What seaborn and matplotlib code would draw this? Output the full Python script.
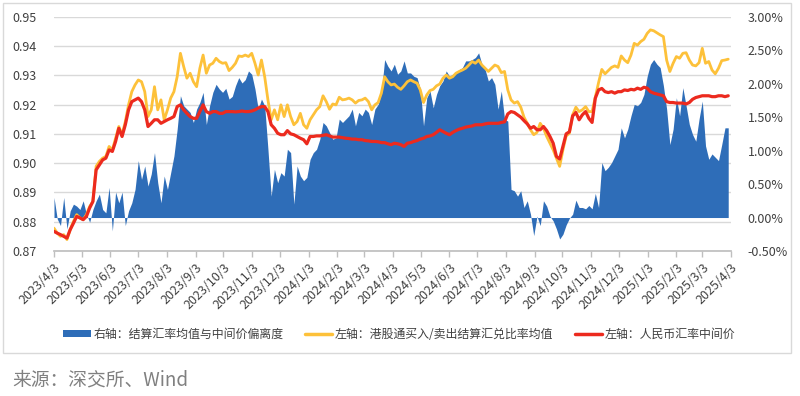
import numpy as np
import pandas as pd
import seaborn as sns
import matplotlib.pyplot as plt
import matplotlib.dates as mdates
from matplotlib.patches import Rectangle, Patch
from matplotlib.lines import Line2D
from matplotlib.ticker import FuncFormatter, MultipleLocator

# all three series read twice a week
dates = pd.date_range('2023-04-03', '2025-04-03', freq='84h')

# right axis: settlement rate average vs central parity deviation (%)
deviation = [
    0.30, -0.02, -0.12, 0.30, -0.17, 0.10, 0.20, 0.17, 0.12, 0.25,
    0.05, -0.07, 0.12, 0.25, 0.35, 0.12, 0.07, 0.45, -0.20, 0.38,
    0.22, 0.38, -0.12, 0.10, 0.22, 0.42, 0.85, 0.57, 0.77, 0.47,
    0.65, 0.97, 0.52, 0.22, 0.62, 0.42, 0.67, 0.92, 1.32, 1.82,
    1.67, 1.62, 1.57, 1.42, 1.62, 1.72, 1.87, 1.39, 1.67, 1.87,
    1.99, 1.92, 1.87,
    1.93, 1.77, 1.81, 1.97, 2.09, 2.01, 2.06, 2.19, 2.14, 1.92,
    1.62, 1.77, 1.67, 1.02, 0.32, 0.72, 0.52, 0.67, 0.62, 1.02,
    0.97, 0.20, 0.77, 0.62, 0.55, 0.60, 0.87, 0.97, 1.02, 1.17,
    1.42, 1.37, 1.27, 1.17, 1.19, 1.47, 1.42, 1.47, 1.52, 1.62,
    1.37, 1.57, 1.52, 1.62, 1.57, 1.39, 1.62, 1.69, 1.87, 2.36, 2.26, 2.19,
    2.29, 2.14, 2.19, 2.34, 2.16, 2.16, 2.11, 2.09, 1.92, 1.37,
    1.79, 1.89, 1.64, 1.84, 1.97, 2.04, 2.19, 2.11, 2.14, 2.16,
    2.21, 2.24, 2.34, 2.34, 2.36, 2.39, 2.46, 2.29, 2.21, 2.04,
    2.09, 1.99, 1.62, 1.89, 1.47, 1.44, 0.42, 0.40, 0.32, 0.40,
    0.15, 0.25, 0.05, -0.27, 0.02, -0.12, 0.25, 0.17, 0.02, -0.05, -0.17, -0.32, -0.25,
    -0.11, -0.01, 0.05, 0.26, 0.15, 0.15, 0.13, 0.18, 0.13, 0.36,
    0.15, 0.82, 0.70, 0.75, 0.82, 0.92, 1.02, 1.34, 1.19, 1.32,
    1.52, 1.69, 1.67, 1.72, 1.84, 2.11, 2.29, 2.36, 2.29, 2.24,
    1.97, 1.62, 1.09, 1.32, 1.79, 1.52, 1.94, 1.67, 1.39, 1.24,
    1.14, 1.47, 1.74, 1.07, 0.87, 0.95, 0.90, 0.85, 1.09, 1.34, 1.34,
]

# left axis: HK Connect buy/sell settlement ratio average
hk_ratio = [
    0.8778, 0.8761, 0.8750, 0.8756, 0.8739, 0.8773, 0.8801, 0.8824, 0.8813, 0.8807,
    0.8824, 0.8852, 0.8869, 0.8989, 0.9006, 0.9017, 0.9023, 0.9057, 0.9045, 0.9085,
    0.9125, 0.9097, 0.9142, 0.9199, 0.9244, 0.9267, 0.9284, 0.9278, 0.9244, 0.9159,
    0.9182, 0.9261, 0.9182, 0.9216, 0.9148, 0.9182, 0.9222, 0.9244, 0.9295, 0.9375,
    0.9330, 0.9290, 0.9307, 0.9278, 0.9261, 0.9324, 0.9369, 0.9307, 0.9335, 0.9341,
    0.9358, 0.9347, 0.9341, 0.9343, 0.9316, 0.9327, 0.9341, 0.9366, 0.9364, 0.9369,
    0.9364, 0.9375, 0.9341, 0.9301, 0.9352, 0.9295, 0.9216, 0.9148, 0.9182, 0.9148,
    0.9199, 0.9159, 0.9199, 0.9159, 0.9131, 0.9142, 0.9170, 0.9131, 0.9119, 0.9148,
    0.9165, 0.9182, 0.9193, 0.9230, 0.9210, 0.9184, 0.9202, 0.9199, 0.9225, 0.9216,
    0.9218, 0.9222, 0.9216, 0.9205, 0.9214, 0.9216, 0.9222, 0.9210, 0.9182, 0.9199,
    0.9207, 0.9239, 0.9295, 0.9278, 0.9267, 0.9270, 0.9259, 0.9252, 0.9264, 0.9278,
    0.9284, 0.9278, 0.9273, 0.9250, 0.9207, 0.9233, 0.9248, 0.9252, 0.9264, 0.9270,
    0.9290, 0.9301, 0.9290, 0.9295, 0.9307, 0.9313, 0.9318, 0.9324, 0.9335, 0.9347,
    0.9341, 0.9352, 0.9335, 0.9324, 0.9313, 0.9324, 0.9335, 0.9330, 0.9309, 0.9313,
    0.9250, 0.9216, 0.9205, 0.9210, 0.9191, 0.9157, 0.9136, 0.9114, 0.9097, 0.9105,
    0.9136, 0.9119, 0.9091, 0.9068, 0.9045, 0.9017, 0.8989, 0.9045, 0.9093, 0.9102,
    0.9165, 0.9191, 0.9176, 0.9182, 0.9193, 0.9176, 0.9176, 0.9225, 0.9275, 0.9320,
    0.9305, 0.9316, 0.9327, 0.9332, 0.9327, 0.9366, 0.9352, 0.9343, 0.9369, 0.9409,
    0.9403, 0.9415, 0.9423, 0.9443, 0.9455, 0.9452, 0.9445, 0.9438, 0.9432, 0.9352,
    0.9313, 0.9341, 0.9364, 0.9358, 0.9375, 0.9377, 0.9352, 0.9335, 0.9332, 0.9343,
    0.9392, 0.9341, 0.9347, 0.9318, 0.9305, 0.9324, 0.9350, 0.9352, 0.9355,
]

# left axis: RMB central parity
cny_mid = [
    0.8767, 0.8761, 0.8756, 0.8750, 0.8744, 0.8773, 0.8795, 0.8818, 0.8813, 0.8807,
    0.8818, 0.8847, 0.8869, 0.8977, 0.8994, 0.9011, 0.9017, 0.9045, 0.9040, 0.9074,
    0.9119, 0.9091, 0.9131, 0.9182, 0.9210, 0.9216, 0.9222, 0.9210, 0.9182, 0.9125,
    0.9136, 0.9148, 0.9148, 0.9136, 0.9142, 0.9148, 0.9153, 0.9159, 0.9193, 0.9199,
    0.9182, 0.9170, 0.9159, 0.9153, 0.9153, 0.9176, 0.9199, 0.9176, 0.9170, 0.9176,
    0.9176, 0.9170, 0.9170, 0.9176, 0.9176, 0.9176, 0.9175, 0.9176, 0.9178, 0.9176,
    0.9176, 0.9178, 0.9182, 0.9188, 0.9193, 0.9193, 0.9176, 0.9131, 0.9119, 0.9102,
    0.9097, 0.9097, 0.9111, 0.9100, 0.9097, 0.9091, 0.9085, 0.9080, 0.9066, 0.9091,
    0.9091, 0.9093, 0.9093, 0.9095, 0.9097, 0.9093, 0.9089, 0.9089, 0.9089, 0.9087,
    0.9085, 0.9084, 0.9082, 0.9082, 0.9080, 0.9080, 0.9077, 0.9076, 0.9074, 0.9074,
    0.9073, 0.9070, 0.9070, 0.9066, 0.9063, 0.9068, 0.9066, 0.9063, 0.9057, 0.9068,
    0.9070, 0.9074, 0.9077, 0.9082, 0.9085, 0.9091, 0.9093, 0.9097, 0.9105, 0.9114,
    0.9108, 0.9102, 0.9097, 0.9105, 0.9111, 0.9116, 0.9119, 0.9123, 0.9125, 0.9127,
    0.9131, 0.9131, 0.9131, 0.9134, 0.9136, 0.9136, 0.9136, 0.9136, 0.9139, 0.9141,
    0.9168, 0.9176, 0.9173, 0.9165, 0.9157, 0.9145, 0.9134, 0.9119, 0.9125, 0.9114,
    0.9114, 0.9125, 0.9111, 0.9091, 0.9068, 0.9023, 0.9014, 0.9057, 0.9100, 0.9107,
    0.9161, 0.9173, 0.9148, 0.9165, 0.9176, 0.9153, 0.9139, 0.9222, 0.9250, 0.9255,
    0.9244, 0.9241, 0.9244, 0.9239, 0.9244, 0.9244, 0.9250, 0.9248, 0.9252, 0.9250,
    0.9256, 0.9252, 0.9259, 0.9256, 0.9244, 0.9239, 0.9236, 0.9233, 0.9230, 0.9210,
    0.9207, 0.9207, 0.9205, 0.9205, 0.9205, 0.9202, 0.9207, 0.9218, 0.9224, 0.9227,
    0.9230, 0.9230, 0.9230, 0.9227, 0.9227, 0.9230, 0.9230, 0.9227, 0.9230,
]

labels = ['右轴：结算汇率均值与中间价偏离度',
          '左轴：港股通买入/卖出结算汇兑比率均值',
          '左轴：人民币汇率中间价']

sns.set_theme(style='white')
plt.rcParams['font.family'] = ['Noto Sans CJK SC', 'DejaVu Sans']

c_blue = '#2E6DB8'
c_yellow = '#FDC13A'
c_red = '#EC2A1E'
c_text = '#404040'

fig = plt.figure(figsize=(8, 3.96), dpi=100)
ax = fig.add_axes([54 / 800, 1 - 251 / 396, (731 - 54) / 800, (251 - 16.7) / 396])
ax2 = ax.twinx()
ax3 = ax.twinx()

# right axis area
ax2.fill_between(dates, 0, deviation, color=c_blue, lw=0)
ax2.set_ylim(-0.5, 3.0)
ax2.yaxis.set_major_locator(MultipleLocator(0.5))
ax2.yaxis.set_major_formatter(FuncFormatter(lambda v, p: f'{v:.2f}%'))
ax2.tick_params(axis='y', length=0, pad=12, labelsize=9, colors=c_text)

# left axis lines
sns.lineplot(x=dates, y=hk_ratio, ax=ax3, color=c_yellow, linewidth=2.0)
sns.lineplot(x=dates, y=cny_mid, ax=ax3, color=c_red, linewidth=2.3)
ax3.set_ylim(0.87, 0.95)
ax3.set_yticks([])
ax3.set_ylabel('')

ax.set_ylim(0.87, 0.95)
ax.set_yticks(np.arange(0.87, 0.9501, 0.01))
ax.yaxis.set_major_formatter(FuncFormatter(lambda v, p: f'{v:.2f}'))
ax.grid(axis='y', color='#d9d9d9', lw=1)
ax.grid(axis='x', visible=False)
ax.tick_params(axis='y', length=0, pad=12.5, labelsize=9, colors=c_text)

ax.set_xlim(pd.Timestamp('2023-04-03'), pd.Timestamp('2025-04-03'))
ax.xaxis.set_major_locator(mdates.MonthLocator(bymonthday=3))
ax.xaxis.set_major_formatter(FuncFormatter(
    lambda v, p: (lambda d: f'{d.year}/{d.month}/{d.day}')(mdates.num2date(v))))
ax.tick_params(axis='x', bottom=True, length=4, width=1, color='#bfbfbf',
               pad=3, labelsize=9, labelcolor=c_text)
plt.setp(ax.get_xticklabels(), rotation=45, ha='right', rotation_mode='anchor')

for a in (ax, ax2, ax3):
    for s in a.spines.values():
        s.set_visible(False)
ax.spines['bottom'].set_visible(True)
ax.spines['bottom'].set_color('#bfbfbf')

handles = [Patch(facecolor=c_blue, edgecolor='none'),
           Line2D([], [], color=c_yellow, lw=2.5),
           Line2D([], [], color=c_red, lw=2.5)]
leg = fig.legend(handles, labels, loc='center', bbox_to_anchor=(0.499, 1 - 334 / 396),
                 ncol=3, frameon=False, fontsize=8.6, handlelength=2.3, handleheight=0.55,
                 handletextpad=0.2, columnspacing=1.8)
for t in leg.get_texts():
    t.set_color(c_text)

fig.add_artist(Rectangle((3 / 800, 1 - 353 / 396), 788 / 800, 350 / 396,
                         transform=fig.transFigure, fill=False,
                         edgecolor='#d9d9d9', lw=1))
fig.text(12 / 800, 1 - 380 / 396, '来源：深交所、Wind', fontsize=13.5,
         color='#808080', va='center')

fig.savefig('out.png', dpi=100)
